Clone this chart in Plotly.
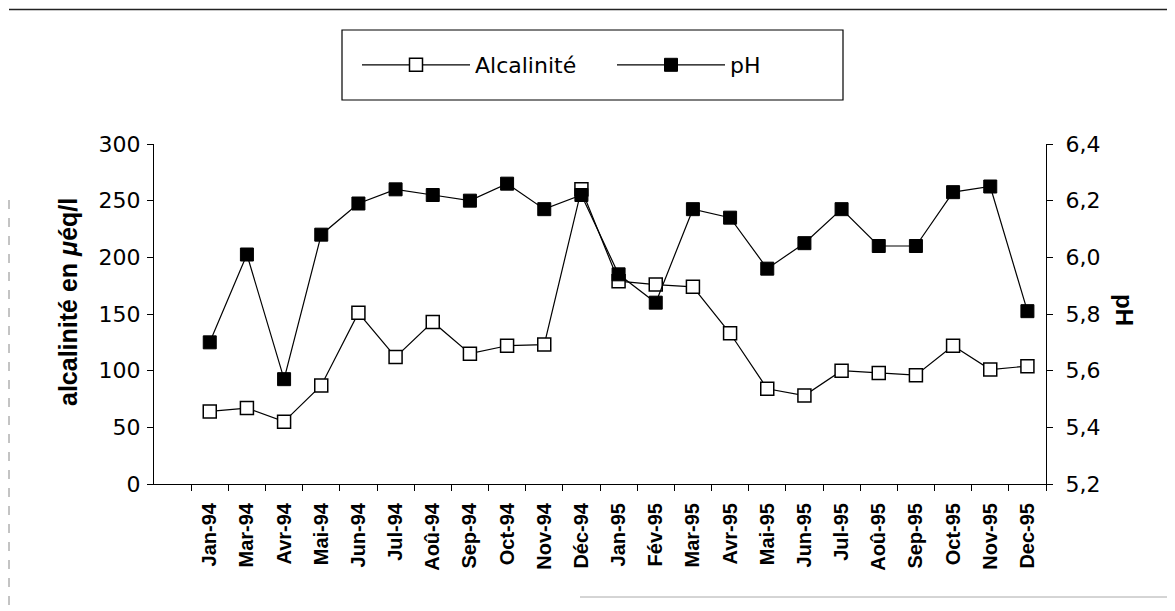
import plotly.graph_objects as go

months = ["Jan-94", "Mar-94", "Avr-94", "Mai-94", "Jun-94", "Jul-94", "Aoû-94",
          "Sep-94", "Oct-94", "Nov-94", "Déc-94", "Jan-95", "Fév-95", "Mar-95",
          "Avr-95", "Mai-95", "Jun-95", "Jul-95", "Aoû-95", "Sep-95", "Oct-95",
          "Nov-95", "Dec-95"]

alcalinite = [64, 67, 55, 87, 151, 112, 143, 115, 122, 123, 260, 179, 176,
              174, 133, 84, 78, 100, 98, 96, 122, 101, 104]

ph = [5.70, 6.01, 5.57, 6.08, 6.19, 6.24, 6.22, 6.20, 6.26, 6.17, 6.22, 5.94,
      5.84, 6.17, 6.14, 5.96, 6.05, 6.17, 6.04, 6.04, 6.23, 6.25, 5.81]

left_ticks = [0, 50, 100, 150, 200, 250, 300]
right_ticks = [5.2, 5.4, 5.6, 5.8, 6.0, 6.2, 6.4]

# the page body adds an 8px margin, so the figure is drawn 8px in
OFF = 8
W, H = 1175 - OFF, 611 - OFF
L, T = 154 - OFF, 144 - OFF
R = W - (1046 - OFF)
B = H - (484 - OFF)
pw, ph_ = W - L - R, H - T - B


def px_x(sx):
    return (sx - OFF - L) / pw


def px_y(sy):
    return (H - B - (sy - OFF)) / ph_


fig = go.Figure()
fig.add_trace(go.Scatter(
    x=months, y=alcalinite, name="Alcalinité", mode="lines+markers",
    line=dict(color="black", width=1.2),
    marker=dict(symbol="square", size=13, color="white",
                line=dict(color="black", width=1.5)),
    yaxis="y", cliponaxis=False))
fig.add_trace(go.Scatter(
    x=months, y=ph, name="pH", mode="lines+markers",
    line=dict(color="black", width=1.2),
    marker=dict(symbol="square", size=13, color="black",
                line=dict(color="black", width=1)),
    yaxis="y2", cliponaxis=False))

num_font = dict(family="DejaVu Sans", size=22, color="black")

fig.update_layout(
    width=W, height=H,
    margin=dict(l=L, r=R, t=T, b=B),
    paper_bgcolor="white", plot_bgcolor="white",
    separators=", ",
    showlegend=True,
    legend=dict(orientation="h", x=px_x(357), y=px_y(65), xanchor="left",
                yanchor="middle", font=dict(family="DejaVu Sans", size=22,
                                            color="black"),
                bgcolor="rgba(0,0,0,0)", borderwidth=0,
                entrywidthmode="pixels", entrywidth=132, itemwidth=108),
    xaxis=dict(type="category", categoryorder="array", categoryarray=months,
               range=[-1.5, len(months) - 0.5], tickson="boundaries",
               showline=True, linecolor="black", linewidth=1,
               ticks="outside", ticklen=6, tickcolor="black",
               tickangle=-90, ticklabelstandoff=10,
               tickfont=dict(family="Liberation Sans", size=20, color="black",
                             weight="bold"),
               showgrid=False, zeroline=False),
    yaxis=dict(range=[0, 300], tickvals=left_ticks, showline=True,
               linecolor="black", linewidth=1, ticks="outside", ticklen=6,
               tickcolor="black", tickfont=num_font, ticklabelstandoff=2,
               showgrid=False, zeroline=False),
    yaxis2=dict(range=[5.2, 6.4], tickvals=right_ticks, tickformat=".1f",
                overlaying="y", side="right", showline=True,
                linecolor="black", linewidth=1, ticks="outside", ticklen=6,
                tickcolor="black", tickfont=num_font, ticklabelstandoff=8,
                showgrid=False, zeroline=False),
    annotations=[
        dict(text="alcalinité en <i>μ</i>éq/l", xref="paper", yref="paper",
             x=px_x(68), y=px_y(302), xanchor="center", yanchor="middle",
             textangle=-90, showarrow=False,
             font=dict(family="Liberation Sans", size=25, color="black",
                       weight="bold")),
        dict(text="pH", xref="paper", yref="paper",
             x=px_x(1125), y=px_y(310), xanchor="center", yanchor="middle",
             textangle=90, showarrow=False,
             font=dict(family="Liberation Sans", size=24, color="black",
                       weight="bold")),
    ],
    shapes=[
        dict(type="rect", xref="paper", yref="paper",
             x0=px_x(342), x1=px_x(843), y0=px_y(100), y1=px_y(30),
             line=dict(color="black", width=1.2)),
        dict(type="line", xref="paper", yref="paper",
             x0=px_x(9), x1=px_x(1175), y0=px_y(9.5), y1=px_y(9.5),
             line=dict(color="#222222", width=1.5)),
        dict(type="line", xref="paper", yref="paper",
             x0=px_x(9), x1=px_x(9), y0=px_y(200), y1=px_y(611),
             line=dict(color="#888888", width=1, dash="dash")),
        dict(type="line", xref="paper", yref="paper",
             x0=px_x(580), x1=px_x(1175), y0=px_y(597), y1=px_y(597),
             line=dict(color="#aaaaaa", width=1)),
    ],
)

fig.write_html("out.html")
